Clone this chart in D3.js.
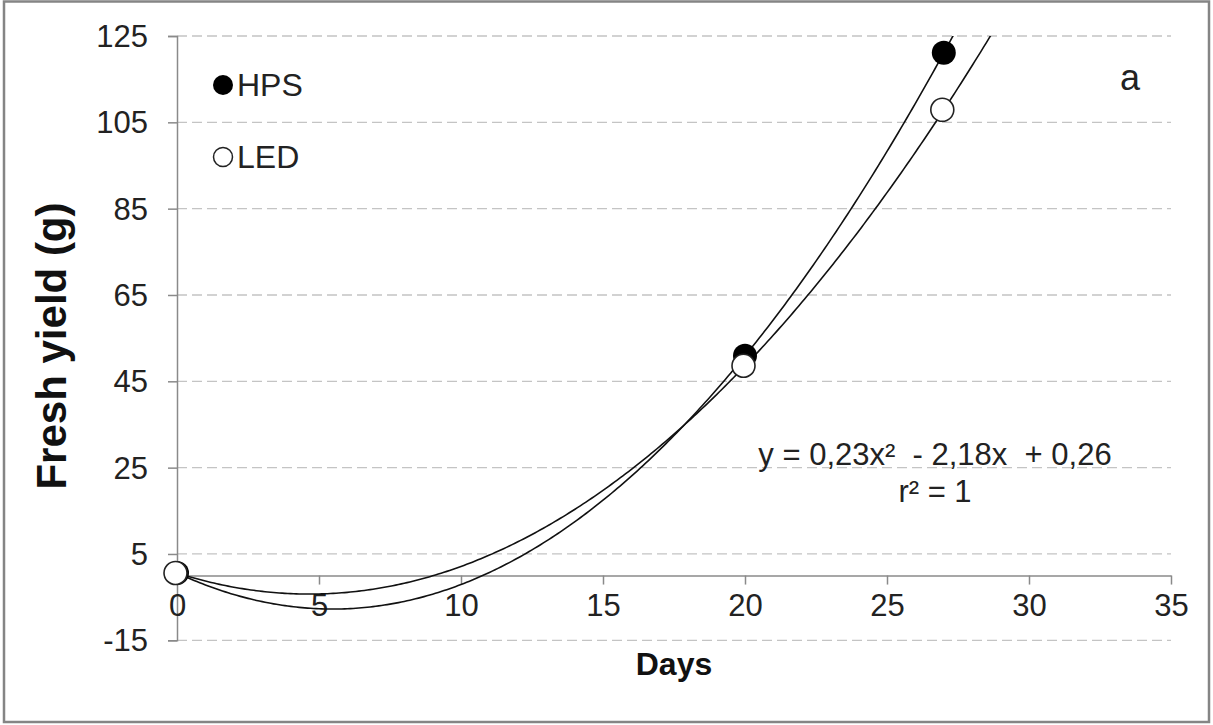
<!DOCTYPE html>
<html>
<head>
<meta charset="utf-8">
<script src="https://cdn.jsdelivr.net/npm/d3@7"></script>
<style>
  body { margin: 0; background: #fff; }
  text { font-family: Arial, "Liberation Sans", sans-serif; fill: #222; }
</style>
</head>
<body>
<div id="chart"></div>
<script>
// values
const days = [0, 20, 27];
const hps = [0.6, 50.9, 121.1];
const led = [0.6, 48.6, 107.9];
const xTicks = [0, 5, 10, 15, 20, 25, 30, 35];
const yTicks = [-15, 5, 25, 45, 65, 85, 105, 125];
const seriesNames = ['HPS', 'LED'];
const equationLines = ['y = 0,23x\u00b2  - 2,18x  + 0,26', 'r\u00b2 = 1'];

const width = 1213;
const height = 725;
const margin = { top: 36, right: 42, bottom: 84, left: 177 };

const svg = d3.select('#chart')
  .append('svg')
  .attr('width', width)
  .attr('height', height);

// outer frame
svg.append('rect')
  .attr('x', 4).attr('y', 1.5)
  .attr('width', 1205).attr('height', 720.5)
  .attr('fill', 'none')
  .attr('stroke', '#858585')
  .attr('stroke-width', 2.5);

const x = d3.scaleLinear().domain([0, 35]).range([margin.left, width - margin.right]);
const y = d3.scaleLinear().domain([-15, 125]).range([height - margin.bottom - 0.7, margin.top]);

// gridlines
svg.append('g')
  .selectAll('line')
  .data(yTicks)
  .join('line')
  .attr('x1', x(0)).attr('x2', x(35))
  .attr('y1', d => y(d)).attr('y2', d => y(d))
  .attr('stroke', '#c4c4c4')
  .attr('stroke-width', 1.3)
  .attr('stroke-dasharray', '10,5');

// y axis (plain hyphen for negatives, like the original)
const yAxis = svg.append('g')
  .attr('transform', 'translate(' + x(0) + ',0)')
  .call(d3.axisLeft(y).tickValues(yTicks).tickFormat(d => String(d)).tickSize(9).tickPadding(20));
yAxis.select('.domain').attr('stroke', '#8a8a8a').attr('stroke-width', 1.5);
yAxis.selectAll('.tick line').attr('stroke', '#8a8a8a').attr('stroke-width', 1.5);
yAxis.selectAll('.tick text')
  .attr('font-size', 31)
  .attr('dy', '0.34em')
  .style('fill', '#222');

// x axis sits on y = 0
const xAxis = svg.append('g')
  .attr('transform', 'translate(0,' + y(0) + ')')
  .call(d3.axisBottom(x).tickValues(xTicks).tickFormat(d => String(d)).tickSize(9).tickSizeOuter(0).tickPadding(8));
xAxis.select('.domain').attr('stroke', '#8a8a8a').attr('stroke-width', 1.5);
xAxis.selectAll('.tick line').attr('stroke', '#8a8a8a').attr('stroke-width', 1.5);
xAxis.selectAll('.tick text')
  .attr('font-size', 31)
  .attr('dy', '0.75em')
  .style('fill', '#222');

// axis titles
svg.append('text')
  .attr('x', 674).attr('y', 675)
  .attr('text-anchor', 'middle')
  .attr('font-size', 32)
  .attr('font-weight', 'bold')
  .style('fill', '#111')
  .text('Days');

svg.append('text')
  .attr('transform', 'translate(66,346) rotate(-90)')
  .attr('text-anchor', 'middle')
  .attr('font-size', 42)
  .attr('font-weight', 'bold')
  .style('fill', '#111')
  .text('Fresh yield (g)');

// quadratic trendline fitted to the points (3x3 normal equations)
function quadFit(xs, ys) {
  const n = xs.length;
  let s = [0, 0, 0, 0, 0], t = [0, 0, 0];
  for (let i = 0; i < n; i++) {
    for (let k = 0; k < 5; k++) s[k] += Math.pow(xs[i], k);
    for (let k = 0; k < 3; k++) t[k] += ys[i] * Math.pow(xs[i], k);
  }
  const M = [[s[0], s[1], s[2], t[0]], [s[1], s[2], s[3], t[1]], [s[2], s[3], s[4], t[2]]];
  for (let i = 0; i < 3; i++) {
    for (let j = i + 1; j < 3; j++) {
      const f = M[j][i] / M[i][i];
      for (let k = i; k < 4; k++) M[j][k] -= f * M[i][k];
    }
  }
  const c = [0, 0, 0];
  for (let i = 2; i >= 0; i--) {
    let v = M[i][3];
    for (let k = i + 1; k < 3; k++) v -= M[i][k] * c[k];
    c[i] = v / M[i][i];
  }
  return xv => c[0] + c[1] * xv + c[2] * xv * xv;
}

svg.append('clipPath').attr('id', 'plot-clip')
  .append('rect')
  .attr('x', x(0)).attr('y', y(125))
  .attr('width', x(35) - x(0)).attr('height', y(-15) - y(125));

const line = d3.line().x(d => x(d[0])).y(d => y(d[1]));
const plot = svg.append('g').attr('clip-path', 'url(#plot-clip)');

[hps, led].forEach(vals => {
  const f = quadFit(days, vals);
  const pts = d3.range(0, 30.01, 0.1).map(d => [d, f(d)]);
  plot.append('path')
    .datum(pts)
    .attr('d', line)
    .attr('fill', 'none')
    .attr('stroke', '#111')
    .attr('stroke-width', 1.6);
});

// markers
svg.append('g')
  .selectAll('circle')
  .data(days.map((d, i) => [d, hps[i]]))
  .join('circle')
  .attr('cx', d => x(d[0]))
  .attr('cy', d => y(d[1]))
  .attr('r', 12)
  .attr('fill', '#000');

svg.append('g')
  .selectAll('circle')
  .data(days.map((d, i) => [d, led[i]]))
  .join('circle')
  .attr('cx', d => x(d[0]) - 1.5)
  .attr('cy', d => y(d[1]))
  .attr('r', 11.5)
  .attr('fill', '#fff')
  .attr('stroke', '#222')
  .attr('stroke-width', 1.6);

// legend
const legend = svg.append('g')
  .selectAll('g')
  .data(seriesNames)
  .join('g')
  .attr('transform', (d, i) => 'translate(223,' + (85 + i * 72) + ')');
legend.append('circle')
  .attr('r', (d, i) => i === 0 ? 10 : 9.5)
  .attr('fill', (d, i) => i === 0 ? '#000' : '#fff')
  .attr('stroke', (d, i) => i === 0 ? 'none' : '#222')
  .attr('stroke-width', 1.5);
legend.append('text')
  .attr('x', 14).attr('y', 11)
  .attr('font-size', 32)
  .text(d => d);

// panel letter
svg.append('text')
  .attr('x', 1120).attr('y', 90)
  .attr('font-size', 36)
  .text('a');

// equation
svg.append('g')
  .selectAll('text')
  .data(equationLines)
  .join('text')
  .attr('x', 935)
  .attr('y', (d, i) => 465 + i * 37)
  .attr('text-anchor', 'middle')
  .attr('font-size', 31)
  .style('white-space', 'pre')
  .text(d => d);
</script>
</body>
</html>
